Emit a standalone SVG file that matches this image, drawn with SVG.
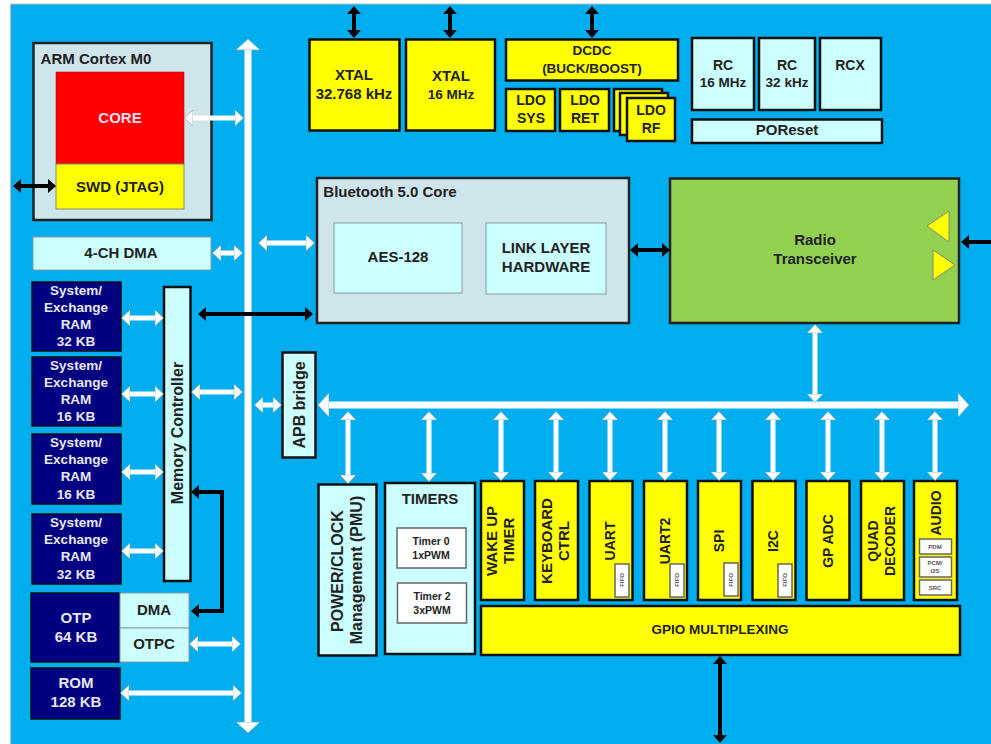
<svg xmlns="http://www.w3.org/2000/svg" width="991" height="744" viewBox="0 0 991 744">
<style>
text{font-family:"Liberation Sans",Arial,sans-serif;font-weight:700;text-anchor:middle;fill:#222;font-size:15px}
.y{fill:#ff0;stroke:#111;stroke-width:2.5}
.c{fill:#cff;stroke:#111;stroke-width:2.5}
.g{fill:#cfe5ec;stroke:#222;stroke-width:2.5}
.n{fill:#000080;stroke:#111;stroke-width:1.5}
.p{fill:#cff;stroke:#8a9a9a;stroke-width:1}
.w{fill:#fff;stroke:#666;stroke-width:1.5}
text.t{fill:#e8e8f4;font-size:13.5px}
text.t2{fill:#e8e8f4}
text.m{font-size:14px}
text.l{font-size:16px}
text.d{font-size:13.5px}
.xs{font-size:6px;fill:#555}
.wa{fill:none;stroke:#fff;stroke-width:5;marker-start:url(#wh);marker-end:url(#wh)}
.ba{fill:none;stroke:#000;stroke-width:4;marker-start:url(#bh);marker-end:url(#bh)}
</style>
<defs>
<marker id="wh" markerUnits="userSpaceOnUse" orient="auto-start-reverse" refX="0" refY="9" markerWidth="10" markerHeight="18"><path d="M0,1 L8.500,9 L0,17 z" fill="#fff" stroke="#9aa" stroke-width=".7"/></marker>
<marker id="bus" markerUnits="userSpaceOnUse" orient="auto-start-reverse" refX="0" refY="13" markerWidth="13" markerHeight="26"><path d="M0,1 L11,13 L0,25 z" fill="#fff" stroke="#9aa" stroke-width=".7"/></marker>
<marker id="bh" markerUnits="userSpaceOnUse" orient="auto-start-reverse" refX="0" refY="8" markerWidth="9" markerHeight="16"><path d="M0,1 L8,8 L0,15 z" fill="#000"/></marker>
</defs>
<rect x="0" y="0" width="991" height="744" fill="#fff"/>
<rect x="10.500" y="4" width="981" height="741" fill="#00aeef" stroke="#bbb" stroke-width="1"/>

<g id="arm-cortex"><rect class="g" x="33.500" y="43" width="178" height="177"/><text x="96" y="64">ARM Cortex M0</text></g>
<g id="core"><rect x="56" y="72" width="128" height="92" fill="#f00" stroke="#900" stroke-width=".5"/><text x="120" y="123" style="fill:#fde">CORE</text></g>
<g id="swd"><rect x="56" y="164" width="128" height="45" fill="#ff0" stroke="#886" stroke-width="1"/><text x="120" y="192">SWD (JTAG)</text></g>
<g id="dma4"><rect class="p" x="33" y="237" width="178" height="33"/><text x="121" y="258">4-CH DMA</text></g>

<g id="ram1"><rect class="n" x="32" y="282" width="89" height="69"/><text class="t" x="76" y="295">System/</text><text class="t" x="76" y="312">Exchange</text><text class="t" x="76" y="329">RAM</text><text class="t" x="76" y="346">32 KB</text></g>
<g id="ram2"><rect class="n" x="32" y="357" width="89" height="69"/><text class="t" x="76" y="370">System/</text><text class="t" x="76" y="387">Exchange</text><text class="t" x="76" y="404">RAM</text><text class="t" x="76" y="421">16 KB</text></g>
<g id="ram3"><rect class="n" x="32" y="434" width="89" height="70"/><text class="t" x="76" y="447">System/</text><text class="t" x="76" y="464">Exchange</text><text class="t" x="76" y="481">RAM</text><text class="t" x="76" y="499">16 KB</text></g>
<g id="ram4"><rect class="n" x="32" y="514" width="89" height="70"/><text class="t" x="76" y="527">System/</text><text class="t" x="76" y="544">Exchange</text><text class="t" x="76" y="561">RAM</text><text class="t" x="76" y="579">32 KB</text></g>
<g id="otp"><rect class="n" x="31" y="593" width="89" height="69"/><text class="t2" x="76" y="623">OTP</text><text class="t2" x="76" y="642">64 KB</text></g>
<g id="otp-dma"><rect class="p" x="120" y="593" width="69" height="35"/><text x="154" y="615">DMA</text></g>
<g id="otpc"><rect class="p" x="120" y="628" width="69" height="34"/><text x="154" y="649">OTPC</text></g>
<g id="rom"><rect class="n" x="31" y="668" width="89" height="51"/><text class="t2" x="76" y="688">ROM</text><text class="t2" x="76" y="707">128 KB</text></g>
<g id="memory-controller"><rect class="c" x="164" y="287" width="26.500" height="294"/><text class="l" transform="rotate(-90 183 433)" x="183" y="433">Memory Controller</text></g>

<g id="xtal32"><rect class="y" x="309.500" y="39.500" width="90" height="91"/><text x="354" y="80">XTAL</text><text x="354" y="99">32.768 kHz</text></g>
<g id="xtal16"><rect class="y" x="406" y="39.500" width="89" height="91"/><text x="451" y="81">XTAL</text><text x="451" y="99" class="d">16 MHz</text></g>
<g id="dcdc"><rect class="y" x="506" y="39.500" width="172" height="41"/><text class="d" x="592" y="55">DCDC</text><text class="d" x="592" y="73">(BUCK/BOOST)</text></g>
<g id="ldo-sys"><rect class="y" x="506" y="89" width="49" height="42"/><text class="m" x="531" y="105">LDO</text><text class="m" x="531" y="123">SYS</text></g>
<g id="ldo-ret"><rect class="y" x="560" y="89" width="49" height="42"/><text class="m" x="585" y="105">LDO</text><text class="m" x="585" y="123">RET</text></g>
<g id="ldo-rf"><rect class="y" x="614" y="89" width="48" height="42"/><rect class="y" x="620" y="93" width="48" height="42"/><rect class="y" x="627" y="98" width="48" height="43"/><text class="m" x="651" y="115">LDO</text><text class="m" x="651" y="133">RF</text></g>
<g id="rc16"><rect class="c" x="692" y="38" width="62" height="72"/><text class="m" x="723" y="70">RC</text><text class="d" x="723" y="87">16 MHz</text></g>
<g id="rc32"><rect class="c" x="759" y="38" width="56" height="72"/><text class="m" x="787" y="70">RC</text><text class="d" x="787" y="87">32 kHz</text></g>
<g id="rcx"><rect class="c" x="820" y="38" width="61" height="72"/><text class="m" x="850" y="70">RCX</text></g>
<g id="poreset"><rect class="c" x="692" y="119.500" width="190" height="23.500"/><text x="787" y="135">POReset</text></g>

<g id="bluetooth"><rect class="g" x="317" y="178" width="312" height="145"/><text x="390" y="197">Bluetooth 5.0 Core</text></g>
<g id="aes"><rect class="p" x="334" y="223" width="128" height="70"/><text x="398" y="262">AES-128</text></g>
<g id="link-layer"><rect class="p" x="486" y="223" width="120" height="71"/><text x="546" y="253">LINK LAYER</text><text x="546" y="272">HARDWARE</text></g>
<g id="radio"><rect x="670" y="178.500" width="289" height="144.500" fill="#92d050" stroke="#222" stroke-width="2.500"/><text x="815" y="245">Radio</text><text x="815" y="264">Transceiver</text><polygon points="927,226 949,211 949,242" fill="#ff0" stroke="#887" stroke-width="1"/><polygon points="933,250 933,280 955,265" fill="#ff0" stroke="#887" stroke-width="1"/></g>

<g id="apb-bridge"><rect class="c" x="282.500" y="352.500" width="33" height="105"/><text class="l" transform="rotate(-90 305 405)" x="305" y="405">APB bridge</text></g>
<g id="pmu"><rect class="c" x="318.500" y="484.500" width="58" height="171"/><text class="l" transform="rotate(-90 343 571)" x="343" y="571">POWER/CLOCK</text><text class="l" transform="rotate(-90 362 570)" x="362" y="570">Management (PMU)</text></g>
<g id="timers"><rect class="c" x="385" y="483" width="90" height="171"/><text x="430" y="504">TIMERS</text></g>
<g id="timer0"><rect class="w" x="397" y="528" width="69" height="40"/><text x="431" y="545" style="font-size:10.500px">Timer 0</text><text x="431" y="559" style="font-size:10.500px">1xPWM</text></g>
<g id="timer2"><rect class="w" x="397.500" y="583" width="69" height="40"/><text x="432" y="600" style="font-size:10.500px">Timer 2</text><text x="432" y="614" style="font-size:10.500px">3xPWM</text></g>

<g id="wakeup"><rect class="y" x="481" y="481" width="43" height="119"/><text transform="rotate(-90 497 541)" x="497" y="541">WAKE UP</text><text transform="rotate(-90 514 541)" x="514" y="541">TIMER</text></g>
<g id="keyboard"><rect class="y" x="535" y="481" width="43" height="119"/><text transform="rotate(-90 552 541)" x="552" y="541">KEYBOARD</text><text transform="rotate(-90 569 541)" x="569" y="541">CTRL</text></g>
<g id="uart"><rect class="y" x="589.500" y="481" width="43" height="119"/><text class="m" transform="rotate(-90 615 541)" x="615" y="541">UART</text><rect class="w" x="615" y="564" width="14" height="33"/><text transform="rotate(-90 624 580)" x="624" y="580" class="xs">FIFO</text></g>
<g id="uart2"><rect class="y" x="644" y="481" width="43" height="119"/><text class="m" transform="rotate(-90 670 541)" x="670" y="541">UART2</text><rect class="w" x="670" y="564" width="14" height="33"/><text transform="rotate(-90 679 580)" x="679" y="580" class="xs">FIFO</text></g>
<g id="spi"><rect class="y" x="698" y="481" width="43" height="119"/><text class="m" transform="rotate(-90 724 541)" x="724" y="541">SPI</text><rect class="w" x="724" y="563" width="14" height="33"/><text transform="rotate(-90 733 580)" x="733" y="580" class="xs">FIFO</text></g>
<g id="i2c"><rect class="y" x="752.500" y="481" width="43" height="119"/><text class="m" transform="rotate(-90 778 541)" x="778" y="541">I2C</text><rect class="w" x="778" y="564" width="14" height="33"/><text transform="rotate(-90 787 580)" x="787" y="580" class="xs">FIFO</text></g>
<g id="gp-adc"><rect class="y" x="806.500" y="481" width="43" height="119"/><text class="m" transform="rotate(-90 833 541)" x="833" y="541">GP ADC</text></g>
<g id="quad"><rect class="y" x="861" y="481" width="43" height="119"/><text class="m" transform="rotate(-90 878 541)" x="878" y="541">QUAD</text><text class="m" transform="rotate(-90 895 541)" x="895" y="541">DECODER</text></g>
<g id="audio"><rect class="y" x="914" y="481" width="43" height="119"/><text class="m" transform="rotate(-90 941 513)" x="941" y="513">AUDIO</text><rect class="w" x="919.500" y="539" width="32" height="15"/><text x="935" y="549" class="xs">PDM</text><rect class="w" x="919.500" y="557" width="32" height="20"/><text x="935" y="565" class="xs">PCM/</text><text x="935" y="573" class="xs">I2S</text><rect class="w" x="919.500" y="580" width="32" height="15"/><text x="935" y="590" class="xs">SRC</text></g>
<g id="gpio"><rect class="y" x="481" y="606" width="479" height="49"/><text class="d" x="720" y="634">GPIO MULTIPLEXING</text></g>

<g id="connectors">
<path d="M248 50V722" fill="none" stroke="#fff" stroke-width="7" marker-start="url(#bus)" marker-end="url(#bus)"/>
<path d="M329 405H958" fill="none" stroke="#fff" stroke-width="7" marker-start="url(#bus)" marker-end="url(#bus)"/>
<path class="wa" d="M193 118H235"/>
<path class="wa" d="M221 253H234"/>
<path class="wa" d="M267 243H306"/>
<path class="wa" d="M130 318H155"/>
<path class="wa" d="M130 394H155"/>
<path class="wa" d="M130 472H155"/>
<path class="wa" d="M130 551H155"/>
<path class="wa" d="M200 392H234"/>
<path class="wa" d="M198 644H232"/>
<path class="wa" d="M129 693H233"/>
<path class="wa" d="M263 405H273"/>
<path class="wa" d="M815 333V394"/>
<path class="wa" d="M348 420V475"/>
<path class="wa" d="M429 420V473"/>
<path class="wa" d="M501 420V472"/>
<path class="wa" d="M556 420V472"/>
<path class="wa" d="M610 420V472"/>
<path class="wa" d="M665 420V472"/>
<path class="wa" d="M719 420V472"/>
<path class="wa" d="M773 420V472"/>
<path class="wa" d="M828 420V472"/>
<path class="wa" d="M882 420V472"/>
<path class="wa" d="M935 420V472"/>
<path class="ba" d="M21 186H48"/>
<path class="ba" d="M354 14V30"/>
<path class="ba" d="M450 14V30"/>
<path class="ba" d="M592 14V30"/>
<path class="ba" d="M638 250H662"/>
<path class="ba" d="M206 314H305"/>
<path class="ba" d="M720 664V735"/>
<path d="M199 492H222V611H199" fill="none" stroke="#000" stroke-width="4" marker-start="url(#bh)" marker-end="url(#bh)"/>
<path d="M991 242H969" fill="none" stroke="#000" stroke-width="4" marker-end="url(#bh)"/>
</g>
</svg>
